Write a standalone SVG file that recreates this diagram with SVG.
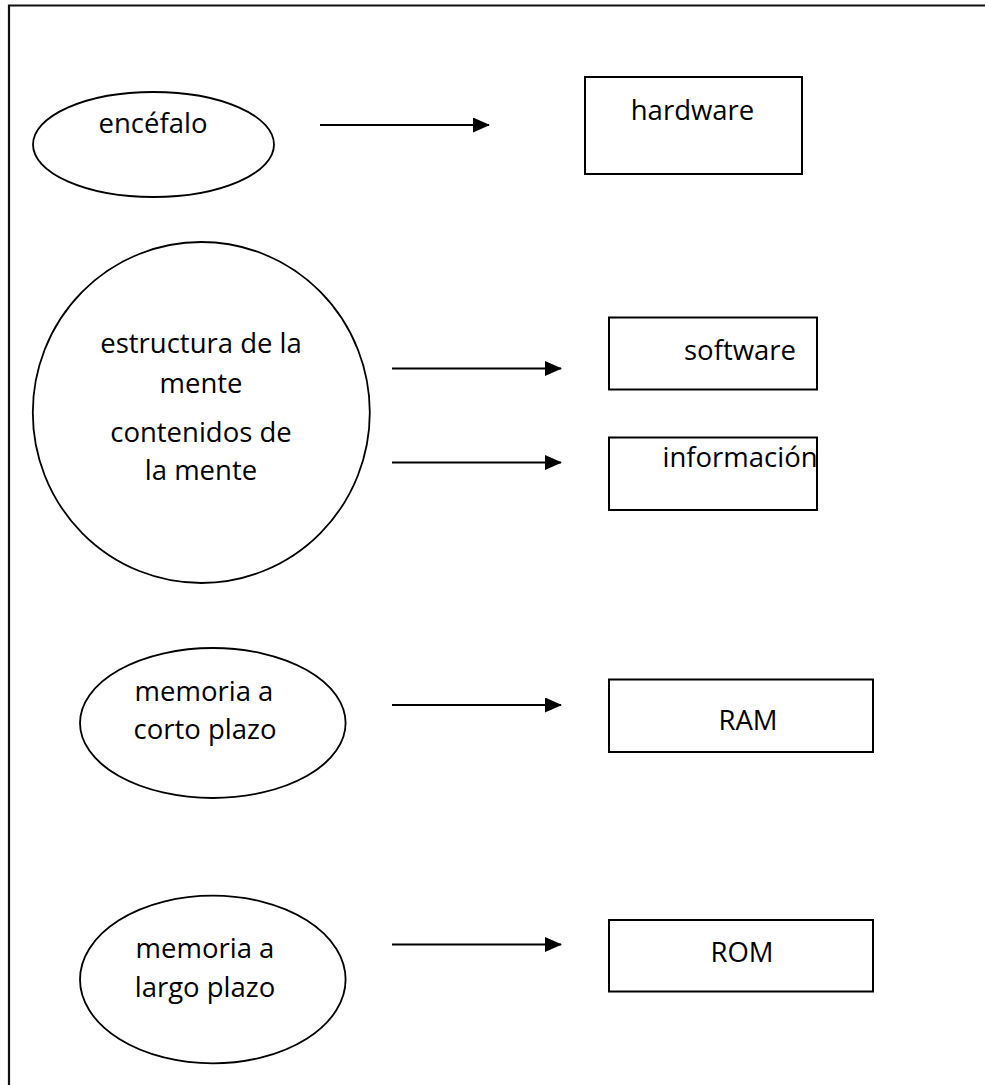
<svg xmlns="http://www.w3.org/2000/svg" width="985" height="1085" viewBox="0 0 985 1085">
  <style>
    .shape { fill: #ffffff; stroke: #000000; stroke-width: 1.8; }
    .box { fill: #ffffff; stroke: #000000; stroke-width: 2; }
    .lbl { font-family: "Open Sans", "Noto Sans", "Liberation Sans", sans-serif; font-size: 27.5px; fill: #000000; text-anchor: middle; }
    .wire { stroke: #000000; stroke-width: 2.2; fill: none; marker-end: url(#head); }
    .frame { stroke: #111111; stroke-width: 2.2; fill: none; }
  </style>
  <defs>
    <marker id="head" markerWidth="17" markerHeight="15" refX="16" refY="7.5" orient="auto" markerUnits="userSpaceOnUse">
      <path d="M0,0 L17,7.5 L0,15 Z" fill="#000000"/>
    </marker>
  </defs>

  <rect width="985" height="1085" fill="#ffffff"/>

  <!-- page frame, open at the right and bottom -->
  <path class="frame" d="M9,1085 L9,5.5 L985,5.5"/>

  <!-- left-hand concepts -->
  <g id="encefalo">
    <ellipse class="shape" cx="153.5" cy="144.5" rx="120.5" ry="52.5"/>
    <text class="lbl" x="153" y="133">encéfalo</text>
  </g>

  <g id="mente">
    <ellipse class="shape" cx="201.3" cy="412.5" rx="168.5" ry="170.5"/>
    <text class="lbl" x="201" y="353">estructura de la</text>
    <text class="lbl" x="201" y="393">mente</text>
    <text class="lbl" x="201" y="442">contenidos de</text>
    <text class="lbl" x="201" y="480">la mente</text>
  </g>

  <g id="memoria-corto">
    <ellipse class="shape" cx="212.8" cy="723" rx="132.8" ry="75"/>
    <text class="lbl" x="204" y="701">memoria a</text>
    <text class="lbl" x="205" y="739">corto plazo</text>
  </g>

  <g id="memoria-largo">
    <ellipse class="shape" cx="212.8" cy="979.5" rx="132.8" ry="83.8"/>
    <text class="lbl" x="205" y="958">memoria a</text>
    <text class="lbl" x="205" y="997">largo plazo</text>
  </g>

  <!-- right-hand computer counterparts -->
  <g id="hardware">
    <rect class="box" x="585" y="77" width="217" height="97"/>
    <text class="lbl" x="692.5" y="120">hardware</text>
  </g>

  <g id="software">
    <rect class="box" x="609" y="317.5" width="208" height="72"/>
    <text class="lbl" x="740" y="360">software</text>
  </g>

  <g id="informacion">
    <rect class="box" x="609" y="437.5" width="208" height="72.5"/>
    <text class="lbl" x="740" y="467">información</text>
  </g>

  <g id="ram">
    <rect class="box" x="609" y="679.5" width="264" height="72.5"/>
    <text class="lbl" x="748" y="730">RAM</text>
  </g>

  <g id="rom">
    <rect class="box" x="609" y="920" width="264" height="71.5"/>
    <text class="lbl" x="742" y="962">ROM</text>
  </g>

  <!-- connectors -->
  <g id="connectors">
    <line class="wire" x1="320" y1="125" x2="489" y2="125"/>
    <line class="wire" x1="392" y1="368.5" x2="561" y2="368.5"/>
    <line class="wire" x1="392" y1="462.5" x2="561" y2="462.5"/>
    <line class="wire" x1="392" y1="705" x2="561" y2="705"/>
    <line class="wire" x1="392" y1="944.5" x2="561" y2="944.5"/>
  </g>
</svg>
